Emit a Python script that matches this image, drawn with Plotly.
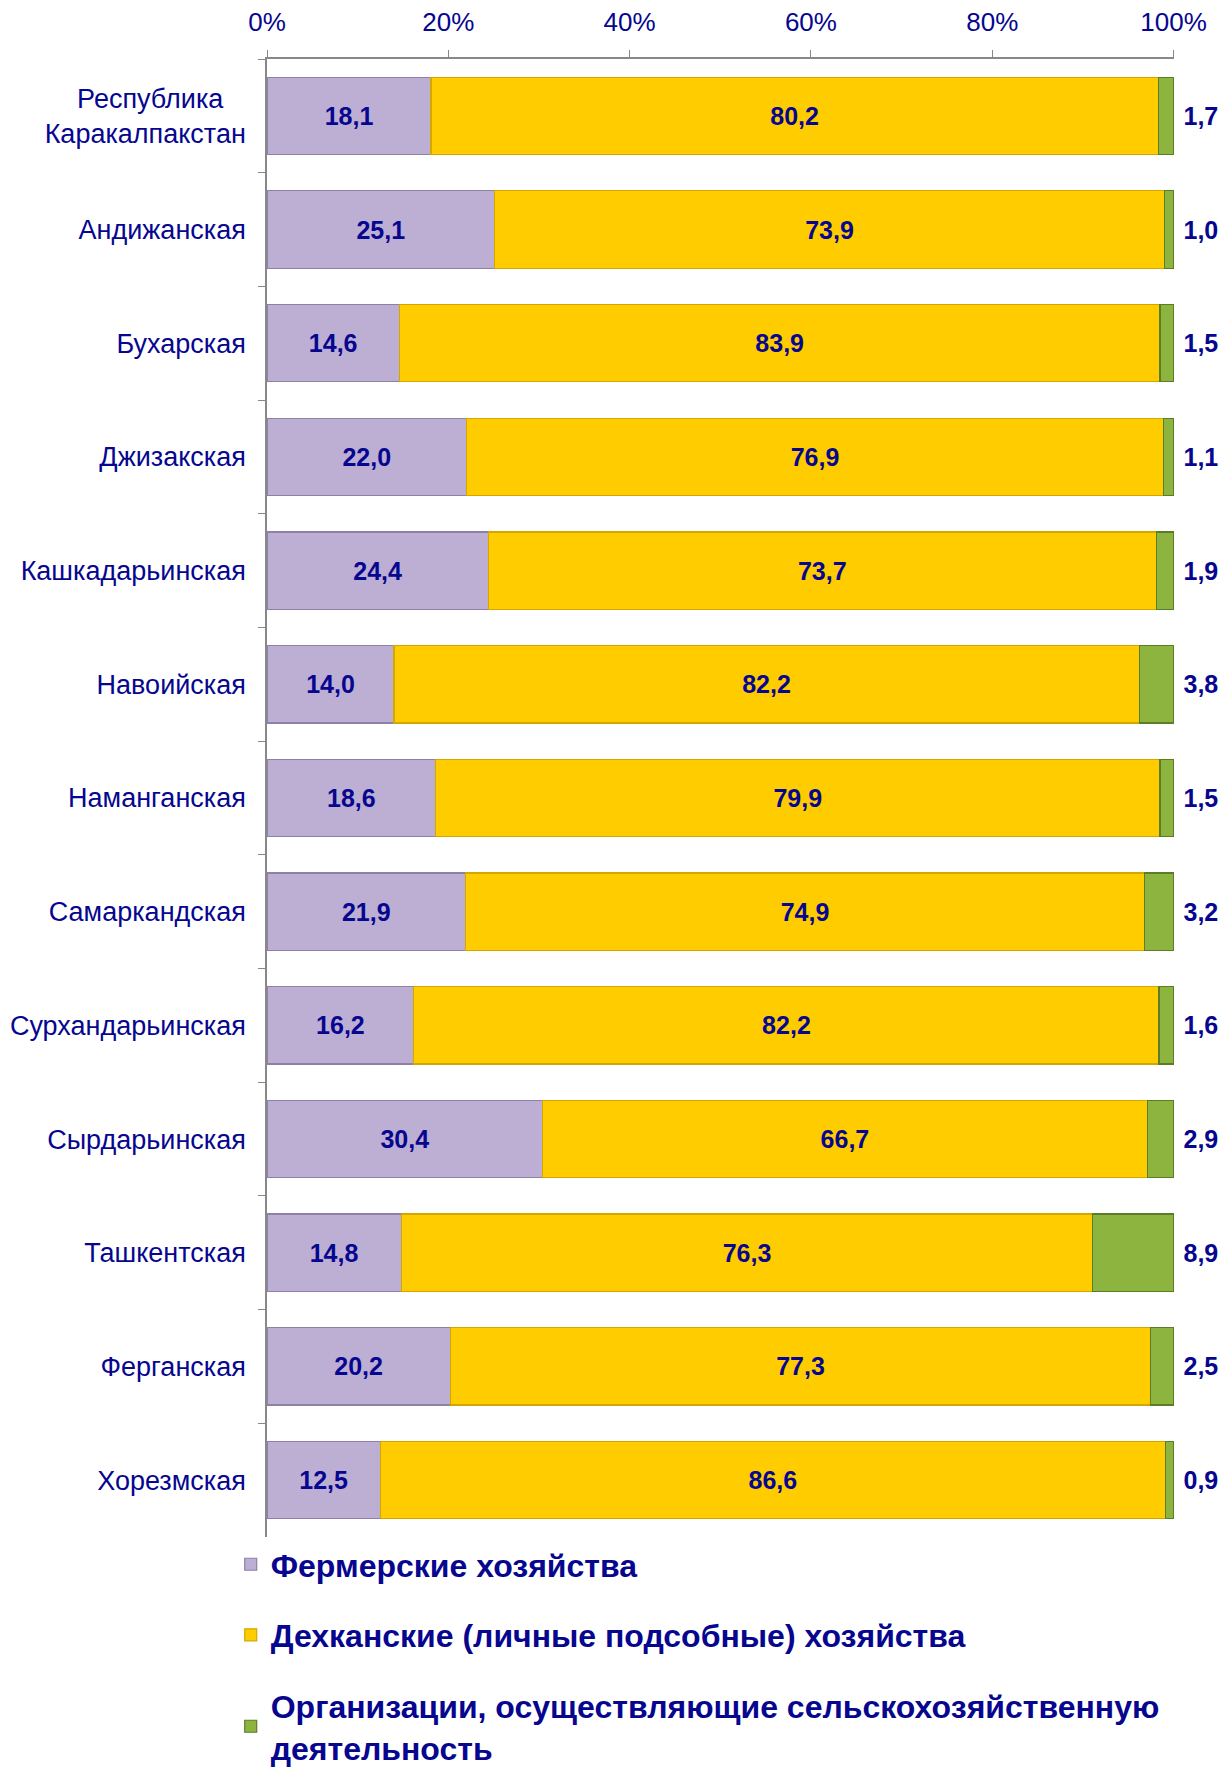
import plotly.graph_objects as go

regions = [
    "Республика\u00a0\u00a0\u00a0<br>Каракалпакстан",
    "Андижанская",
    "Бухарская",
    "Джизакская",
    "Кашкадарьинская",
    "Навоийская",
    "Наманганская",
    "Самаркандская",
    "Сурхандарьинская",
    "Сырдарьинская",
    "Ташкентская",
    "Ферганская",
    "Хорезмская",
]
farms = [18.1, 25.1, 14.6, 22.0, 24.4, 14.0, 18.6, 21.9, 16.2, 30.4, 14.8, 20.2, 12.5]
dehkan = [80.2, 73.9, 83.9, 76.9, 73.7, 82.2, 79.9, 74.9, 82.2, 66.7, 76.3, 77.3, 86.6]
orgs = [1.7, 1.0, 1.5, 1.1, 1.9, 3.8, 1.5, 3.2, 1.6, 2.9, 8.9, 2.5, 0.9]

x_ticks = [0, 20, 40, 60, 80, 100]
x_tick_text = ["0%", "20%", "40%", "60%", "80%", "100%"]

names = [
    "Фермерские хозяйства",
    "Дехканские (личные подсобные) хозяйства",
    "Организации, осуществляющие сельскохозяйственную<br>деятельность",
]
fills = ["#BDAED4", "#FFCC00", "#8DB43E"]
edges = ["#8E80A6", "#D4A600", "#5C7D28"]

FONT = "Liberation Sans, Arial, sans-serif"
TXT = "#06068F"

def fmt(v):
    return f"{v:.1f}".replace(".", ",")

fig = go.Figure()
for i, (vals, name) in enumerate(zip([farms, dehkan, orgs], names)):
    outside = i == 2
    fig.add_trace(go.Bar(
        y=regions, x=vals, orientation="h", name=name,
        legendgroup=f"g{i}",
        marker=dict(color=fills[i], line=dict(color=edges[i], width=1.2)),
        text=[("\u00a0" if outside else "") + fmt(v) for v in vals],
        textposition="outside" if outside else "inside",
        insidetextanchor="middle",
        constraintext="none",
        cliponaxis=False,
        textfont=dict(family=FONT, size=25, color=TXT, weight="bold"),
        hoverinfo="skip",
    ))

fig.update_layout(
    barmode="stack",
    bargap=0.32,
    width=1221, height=1768,
    margin=dict(l=259, r=55, t=51, b=224),
    paper_bgcolor="white", plot_bgcolor="white",
    font=dict(family=FONT, color=TXT),
    legend=dict(
        orientation="v", x=-0.040, xanchor="left",
        y=0.1352, yref="container", yanchor="top",
        traceorder="grouped", tracegroupgap=26,
        font=dict(family=FONT, size=32, color=TXT, weight="bold"),
        itemwidth=30,
    ),
)
fig.update_xaxes(
    side="top", range=[0, 100.05], tickvals=x_ticks, ticktext=x_tick_text,
    showgrid=False, zeroline=False, automargin=False,
    showline=True, linecolor="#888888", linewidth=1.5,
    ticks="outside", ticklen=7, tickcolor="#888888",
    tickfont=dict(family=FONT, size=26, color=TXT),
    ticklabelstandoff=9,
)
fig.update_yaxes(
    autorange="reversed", showgrid=False, zeroline=False, automargin=False,
    showline=True, linecolor="#888888", linewidth=1.5,
    ticks="outside", ticklen=7, tickcolor="#888888", tickson="boundaries",
    tickfont=dict(family=FONT, size=27, color=TXT),
    ticklabelstandoff=14,
)

fig.write_html("out.html")
